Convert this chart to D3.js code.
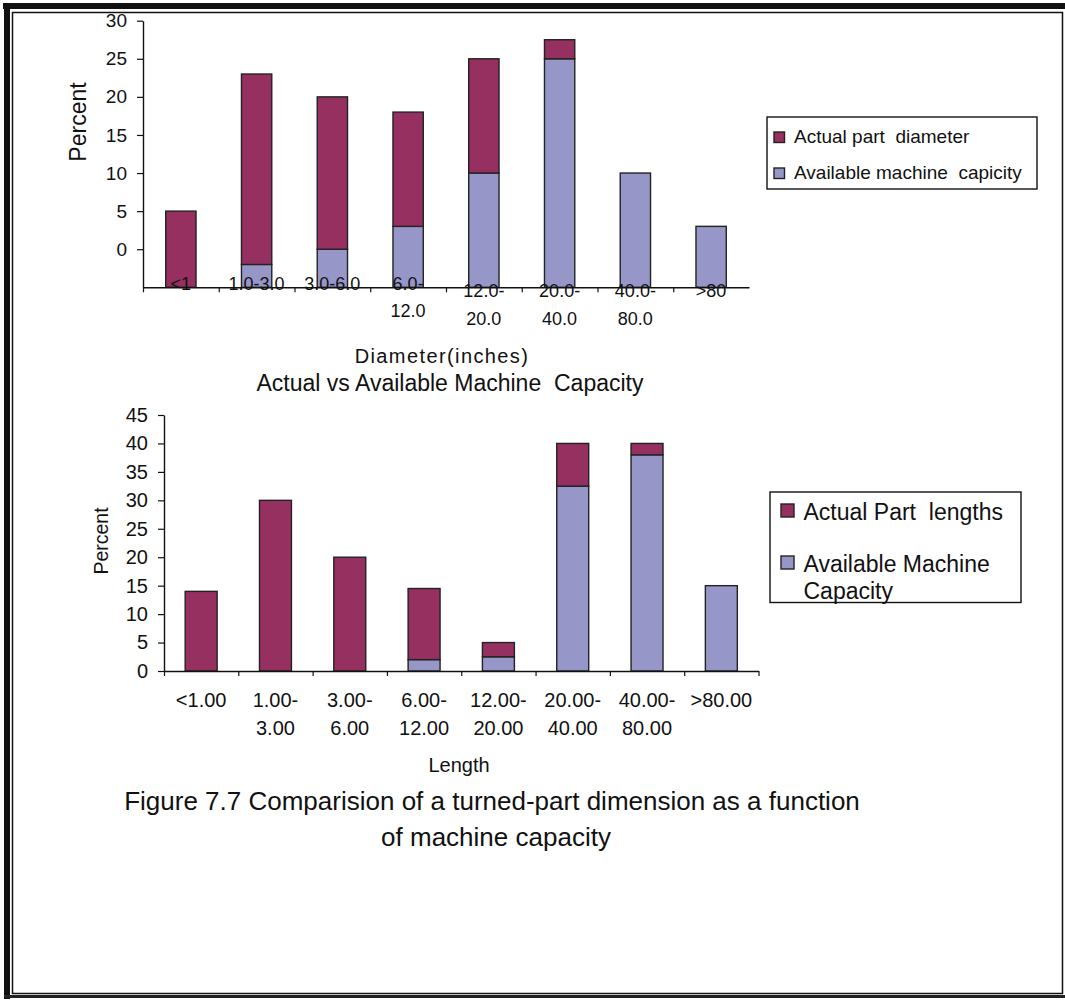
<!DOCTYPE html>
<html>
<head>
<meta charset="utf-8">
<script src="https://cdn.jsdelivr.net/npm/d3@7"></script>
<style>
  body { margin: 0; background: #fff; }
  svg { display: block; font-family: "Liberation Sans", Arial, sans-serif; }
  text { fill: #111; }
</style>
</head>
<body>
<svg id="chart" width="1065" height="1000"></svg>
<script>
// ---- data ----
const diaCats = ["<1", "1.0-3.0", "3.0-6.0", "6.0-12.0", "12.0-20.0", "20.0-40.0", "40.0-80.0", ">80"];
const diaLabelLines = [["<1"], ["1.0-3.0"], ["3.0-6.0"], ["6.0-", "12.0"], ["12.0-", "20.0"], ["20.0-", "40.0"], ["40.0-", "80.0"], [">80"]];
const diaAvailable = [0, 3, 5, 8, 15, 30, 15, 8];
const diaActual = [10, 25, 20, 15, 15, 2.5, 0, 0];
// the printed y labels sit one step above the values they mark
const diaTickLabels = ["0", "5", "10", "15", "20", "25", "30"];

const lenCats = ["<1.00", "1.00-3.00", "3.00-6.00", "6.00-12.00", "12.00-20.00", "20.00-40.00", "40.00-80.00", ">80.00"];
const lenLabelLines = [["<1.00"], ["1.00-", "3.00"], ["3.00-", "6.00"], ["6.00-", "12.00"], ["12.00-", "20.00"], ["20.00-", "40.00"], ["40.00-", "80.00"], [">80.00"]];
const lenAvailable = [0, 0, 0, 2, 2.5, 32.5, 38, 15];
const lenActual = [14, 30, 20, 12.5, 2.5, 7.5, 2, 0];
const lenTicks = [0, 5, 10, 15, 20, 25, 30, 35, 40, 45];

const RED = "#963060";
const BLUE = "#9696c8";
const EDGE = "#222";

const svg = d3.select("#chart");

// ---- page frame ----
const frame = svg.append("g");
frame.append("rect").attr("x", 3).attr("y", 3).attr("width", 1062).attr("height", 6).attr("fill", "#111");
frame.append("rect").attr("x", 4).attr("y", 3).attr("width", 6).attr("height", 996).attr("fill", "#111");
frame.append("rect").attr("x", 4).attr("y", 995).attr("width", 1061).attr("height", 3).attr("fill", "#222");
frame.append("path")
  .attr("d", "M12.5,12.5H1062.5V993.5H12.5Z")
  .attr("fill", "none").attr("stroke", "#111").attr("stroke-width", 1.5);

function stacked(cats, avail, actual) {
  const rows = cats.map((c, i) => ({ cat: c, available: avail[i], actual: actual[i] }));
  return d3.stack().keys(["available", "actual"])(rows);
}

function drawChart(cfg) {
  const g = svg.append("g");
  const x = d3.scaleBand().domain(cfg.cats).range([cfg.x0, cfg.x1])
    .paddingInner(cfg.pad).paddingOuter(cfg.pad / 2);
  const y = d3.scaleLinear().domain(cfg.yDomain).range([cfg.yBase, cfg.yTop]);
  const series = stacked(cfg.cats, cfg.avail, cfg.actual);
  const colors = { available: BLUE, actual: RED };

  g.selectAll(".series").data(series).join("g")
    .attr("fill", d => colors[d.key])
    .selectAll("rect").data(d => d.filter(s => s[1] - s[0] > 0)).join("rect")
    .attr("x", d => x(d.data.cat))
    .attr("width", x.bandwidth())
    .attr("y", d => y(d[1]))
    .attr("height", d => y(d[0]) - y(d[1]))
    .attr("stroke", EDGE).attr("stroke-width", 1.4);

  // y axis
  const ya = g.append("g").attr("transform", `translate(${cfg.x0},0)`)
    .call(d3.axisLeft(y).tickValues(cfg.tickValues).tickFormat((d, i) => cfg.tickLabels[i])
      .tickSize(6).tickSizeOuter(0).tickPadding(10));
  ya.select(".domain").attr("stroke", "#111").attr("stroke-width", 1.4);
  ya.selectAll(".tick line").attr("stroke", "#111").attr("stroke-width", 1.2);
  ya.selectAll(".tick text").attr("font-size", cfg.tickFont).attr("fill", "#111")
    .attr("font-family", "Liberation Sans, Arial, sans-serif");

  // x axis: ticks at category boundaries
  const xb = d3.scaleLinear().domain([0, cfg.cats.length]).range([cfg.x0, cfg.x1]);
  const xa = g.append("g").attr("transform", `translate(0,${cfg.yBase})`)
    .call(d3.axisBottom(xb).tickValues(cfg.xTicks).tickFormat("").tickSize(5).tickSizeOuter(0));
  xa.select(".domain").attr("stroke", "#111").attr("stroke-width", 1.4);
  xa.selectAll(".tick line").attr("stroke", "#111").attr("stroke-width", 1.2);

  // category labels
  g.selectAll(".xlab").data(cfg.lines).join("text")
    .attr("class", "xlab")
    .attr("font-size", cfg.labFont)
    .attr("text-anchor", "middle")
    .each(function (lines, i) {
      const t = d3.select(this);
      const cx = x(cfg.cats[i]) + x.bandwidth() / 2;
      const base = cfg.labY(i);
      lines.forEach((ln, k) => {
        t.append("tspan").attr("x", cx).attr("y", base + k * cfg.labGap(i)).text(ln);
      });
    });

  // y title
  g.append("text")
    .attr("transform", `translate(${cfg.yTitleX},${cfg.yTitleY}) rotate(-90)`)
    .attr("text-anchor", "middle").attr("font-size", cfg.yTitleFont).text("Percent");

  // legend
  const lg = g.append("g");
  lg.append("rect").attr("x", cfg.leg.x).attr("y", cfg.leg.y).attr("width", cfg.leg.w).attr("height", cfg.leg.h)
    .attr("fill", "#fff").attr("stroke", "#111").attr("stroke-width", 1.4);
  cfg.leg.items.forEach((it, k) => {
    lg.append("rect").attr("x", cfg.leg.sx).attr("y", it.sy).attr("width", cfg.leg.ss).attr("height", cfg.leg.ss)
      .attr("fill", colors[it.key]).attr("stroke", EDGE).attr("stroke-width", 1.4);
    const t = lg.append("text").attr("font-size", cfg.leg.font).attr("xml:space", "preserve")
      .style("white-space", "pre");
    it.lines.forEach((ln, j) => {
      t.append("tspan").attr("x", cfg.leg.tx).attr("y", it.ty + j * cfg.leg.gap).text(ln);
    });
  });
  return g;
}

// ---- top chart: diameter ----
drawChart({
  cats: diaCats, lines: diaLabelLines, avail: diaAvailable, actual: diaActual,
  x0: 143, x1: 749, pad: 0.6,
  yDomain: [0, 35], yBase: 287.3, yTop: 20.7,
  tickValues: d3.range(5, 40, 5), tickLabels: diaTickLabels, tickFont: 19,
  xTicks: d3.range(0, 8),
  labFont: 18, labY: i => (i >= 4 ? 296.7 : 290), labGap: i => (i >= 4 ? 28.5 : 26.7),
  yTitleX: 86, yTitleY: 122, yTitleFont: 23,
  leg: {
    x: 767, y: 117, w: 270, h: 72, sx: 774, ss: 10.5, tx: 794, font: 19, gap: 0,
    items: [
      { key: "actual", sy: 132, ty: 142.5, lines: ["Actual part  diameter"] },
      { key: "available", sy: 168, ty: 178.5, lines: ["Available machine  capicity"] }
    ]
  }
});

svg.append("text").attr("x", 442).attr("y", 363).attr("text-anchor", "middle")
  .attr("font-size", 20).attr("letter-spacing", 1.4).text("Diameter(inches)");
svg.append("text").attr("x", 450).attr("y", 391).attr("text-anchor", "middle")
  .attr("font-size", 23).attr("xml:space", "preserve").style("white-space", "pre")
  .text("Actual vs Available Machine  Capacity");

// ---- bottom chart: length ----
drawChart({
  cats: lenCats, lines: lenLabelLines, avail: lenAvailable, actual: lenActual,
  x0: 164, x1: 758.5, pad: 0.57,
  yDomain: [0, 45], yBase: 671, yTop: 415,
  tickValues: lenTicks, tickLabels: lenTicks.map(String), tickFont: 20,
  xTicks: d3.range(0, 9),
  labFont: 20, labY: () => 707, labGap: () => 28,
  yTitleX: 108, yTitleY: 541, yTitleFont: 19.5,
  leg: {
    x: 770, y: 492, w: 251, h: 110.5, sx: 781, ss: 13, tx: 803.5, font: 23, gap: 27.5,
    items: [
      { key: "actual", sy: 504, ty: 520, lines: ["Actual Part  lengths"] },
      { key: "available", sy: 556, ty: 571.5, lines: ["Available Machine", "Capacity"] }
    ]
  }
});

svg.append("text").attr("x", 459).attr("y", 772).attr("text-anchor", "middle")
  .attr("font-size", 20).text("Length");

// ---- caption ----
svg.append("text").attr("x", 492).attr("y", 810).attr("text-anchor", "middle")
  .attr("font-size", 26).text("Figure 7.7 Comparision of a turned-part dimension as a function");
svg.append("text").attr("x", 496).attr("y", 846).attr("text-anchor", "middle")
  .attr("font-size", 26).text("of machine capacity");
</script>
</body>
</html>
